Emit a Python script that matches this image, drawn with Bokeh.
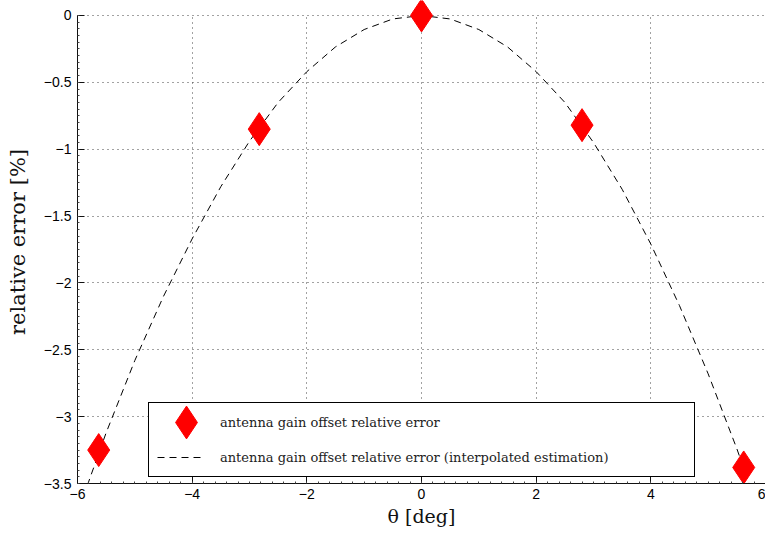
from bokeh.plotting import figure
from bokeh.models import (Legend, LegendItem, Range1d, FixedTicker, Grid)
from bokeh.embed import file_html
from bokeh.resources import INLINE

# ---- data ----
marker_x = [-5.63, -2.83, 0.0, 2.80, 5.62]
marker_y = [-3.25, -0.85, 0.0, -0.82, -3.38]

curve_x = [-5.9, -5.5, -5.0, -4.5, -4.0, -3.5, -3.0, -2.5, -2.0, -1.5, -1.0, -0.5,
           0.0, 0.5, 1.0, 1.5, 2.0, 2.5, 3.0, 3.5, 4.0, 4.5, 5.0, 5.5, 5.9]
curve_y = [-3.60, -3.12, -2.58, -2.10, -1.67, -1.28, -0.94, -0.65, -0.42, -0.235, -0.105, -0.026,
           0.0, -0.026, -0.105, -0.235, -0.42, -0.65, -0.95, -1.30, -1.71, -2.17, -2.68, -3.24, -3.72]

x_ticks = [-6, -4, -2, 0, 2, 4, 6]
x_tick_labels = ["\u22126", "\u22124", "\u22122", "0", "2", "4", "6"]
y_ticks = [-3.5, -3.0, -2.5, -2.0, -1.5, -1.0, -0.5, 0.0]
y_tick_labels = ["\u22123.5", "\u22123", "\u22122.5", "\u22122", "\u22121.5", "\u22121", "\u22120.5", "0"]

label_marker = "antenna gain offset relative error"
label_line = "antenna gain offset relative error (interpolated estimation)"

# ---- figure ----
p = figure(width=765, height=534, output_backend="svg", toolbar_location=None,
           x_range=Range1d(-6, 6), y_range=Range1d(-3.5, 0.112),
           min_border_left=77, min_border_right=0, min_border_top=0, min_border_bottom=51)
p.outline_line_color = None
p.background_fill_color = "white"
p.border_fill_color = "white"

ln = p.line(curve_x, curve_y, line_color="black", line_width=1, line_dash="7 5")
sc = p.scatter(marker_x, marker_y, marker="diamond", size=33, fill_color="red", line_color="red")

# axes
for ax, ticks, labels in ((p.xaxis[0], x_ticks, x_tick_labels), (p.yaxis[0], y_ticks, y_tick_labels)):
    ax.major_label_overrides = {t: l for t, l in zip(ticks, labels)}
    ax.major_tick_in = 7
    ax.major_tick_out = 0
    ax.minor_tick_in = 2
    ax.minor_tick_out = 0
    ax.axis_line_color = "#111111"
    ax.major_tick_line_color = "#111111"
    ax.minor_tick_line_color = "#444444"
    ax.major_label_text_font = "Liberation Sans"
    ax.major_label_text_font_size = "14px"
    ax.major_label_text_color = "black"
    ax.axis_label_text_font = "DejaVu Serif"
    ax.axis_label_text_font_style = "normal"
    ax.axis_label_text_color = "#111111"

p.xaxis.ticker = FixedTicker(ticks=x_ticks,
                             minor_ticks=[round(-6 + 0.2 * i, 2) for i in range(61)])
p.yaxis.ticker = FixedTicker(ticks=y_ticks,
                             minor_ticks=[round(-3.5 + 0.05 * i, 2) for i in range(71)])
p.yaxis.bounds = (-3.5, 0)
p.xaxis.axis_label = "\u03b8 [deg]"
p.yaxis.axis_label = "relative error [%]"
p.xaxis.axis_label_text_font_size = "19px"
p.yaxis.axis_label_text_font_size = "21px"
p.xaxis.major_label_standoff = 5
p.yaxis.major_label_standoff = 6
p.xaxis.axis_label_standoff = 3
p.yaxis.axis_label_standoff = 11

for g in (p.xgrid[0], p.ygrid[0]):
    g.grid_line_color = "#444444"
    g.grid_line_dash = "1 4"
    g.grid_line_width = 1
p.xgrid.ticker = FixedTicker(ticks=x_ticks)
p.ygrid.ticker = FixedTicker(ticks=y_ticks)
if "cross_bounds" in Grid.properties():
    p.xgrid[0].cross_bounds = (-3.5, 0)

# main legend (box, texts, dashed sample)
leg = Legend(items=[LegendItem(label=label_marker, renderers=[sc]),
                    LegendItem(label=label_line, renderers=[ln])],
             location=(71, 6), margin=0, padding=8, spacing=13,
             glyph_width=46, glyph_height=22, label_standoff=17, label_width=466,
             label_height=20,
             border_line_color="black", border_line_width=1.5, border_line_alpha=1.0,
             background_fill_color="white", background_fill_alpha=1.0,
             label_text_font="DejaVu Serif", label_text_font_size="13px",
             label_text_color="#222222")
p.add_layout(leg)

# second legend just for the big diamond glyph
leg2 = Legend(items=[LegendItem(label=" ", renderers=[sc])],
              location=(68, 20), margin=0, padding=0, spacing=0,
              glyph_width=82, glyph_height=82, label_standoff=0, label_width=0,
              border_line_color=None, background_fill_alpha=0.0,
              label_text_font_size="1px")
p.add_layout(leg2)

open("out.html", "w").write(file_html(p, INLINE))
